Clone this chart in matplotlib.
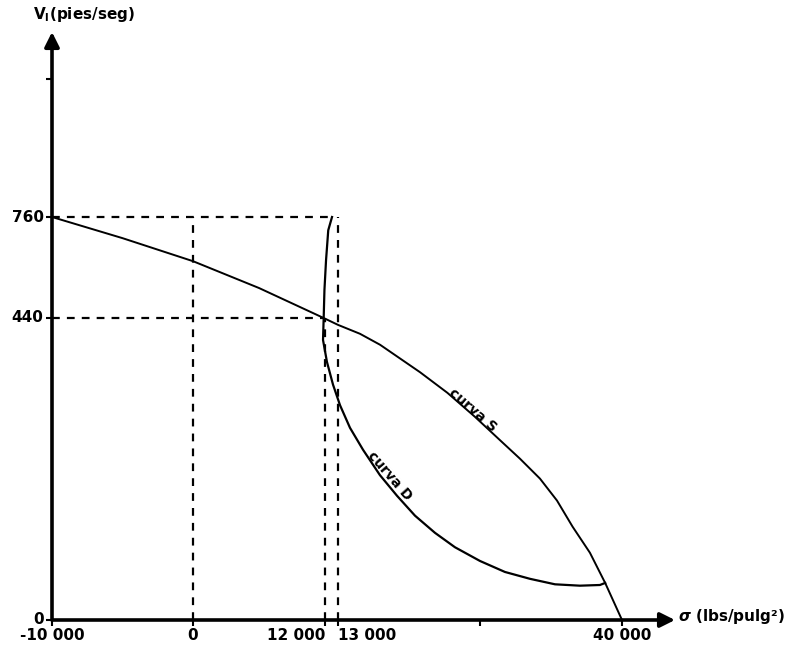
import numpy as np
import matplotlib
matplotlib.use("Agg")
import matplotlib.pyplot as plt

plt.rcParams['font.family'] = ['DejaVu Sans']
plt.rcParams['font.weight'] = 'bold'

# curva S (sigma en lbs/pulg2, velocidad en pies/seg)
s_sigma = [-10000, -5000, 0, 6000, 11880, 13000, 15090, 17000, 20800, 23400, 26020, 28400,
           30300, 32200, 33820, 35300, 36950, 38400, 40000]
s_vel = [760, 693, 620, 535, 440, 430, 417, 401, 361, 331, 296, 262,
         235, 206, 174, 136, 98, 54, 0]

# curva D
d_sigma = [12540, 12250, 12080, 11950, 11880, 11820, 12150, 12615, 13190, 14140, 15380, 16990,
           18610, 20320, 22220, 24120, 26500, 28870, 31250, 33630, 36000, 37900, 38400]
d_vel = [760, 718, 623, 529, 440, 408, 376, 343, 313, 280, 248, 211,
         181, 152, 127, 106, 86, 70, 60, 52, 50, 51, 54]

# ticks
x_ticks = [-10000, 0, 12000, 13000, 26500, 40000]
x_labels = ['-10 000', '0', '12 000', '13 000', '', '40 000']
y_ticks = [0, 440, 760, 1197]
y_labels = ['0', '440', '760', '']

# punto de diseno y limites
v_max, v_des = 760, 440
sig_des, sig_top, sig_lim, sig_cross = 12000, 13000, 12540, 11880

# the sketch is not drawn to a linear scale: piecewise mapping value -> pixel
x_anchor = [-10000, 0, 12000, 13000, 40000]
x_pix = [52, 193, 325, 338, 622]
y_anchor = [0, 440, 760]
y_pix = [27, 329, 430]


def piecewise(vals, pos):
    vals = np.asarray(vals, float)
    pos = np.asarray(pos, float)

    def mk(a, b):
        def f(v):
            v = np.asarray(v, float)
            out = np.interp(v, a, b)
            lo = b[0] + (v - a[0]) * (b[1] - b[0]) / (a[1] - a[0])
            hi = b[-1] + (v - a[-1]) * (b[-1] - b[-2]) / (a[-1] - a[-2])
            out = np.where(v < a[0], lo, out)
            out = np.where(v > a[-1], hi, out)
            return out
        return f
    return mk(vals, pos), mk(pos, vals)


fx, ix = piecewise(x_anchor, x_pix)
fy, iy = piecewise(y_anchor, y_pix)

W, H = 810, 647
fig = plt.figure(figsize=(W / 100, H / 100), dpi=100)
ax = fig.add_axes([0, 0, 1, 1])
ax.set_xscale('function', functions=(fx, ix))
ax.set_yscale('function', functions=(fy, iy))
ax.set_xlim(float(ix(0)), float(ix(W)))
ax.set_ylim(float(iy(0)), float(iy(H)))

# dashed guides
dash = dict(color='k', lw=1.6, ls=(0, (3.5, 3.2)))
ax.plot([-10000, sig_lim], [v_max, v_max], **dash)
ax.plot([-10000, sig_cross], [v_des, v_des], **dash)
ax.plot([0, 0], [0, v_max], **dash)
ax.plot([sig_des, sig_des], [0, v_des], **dash)
ax.plot([sig_top, sig_top], [0, v_max], **dash)

# curves
ax.plot(s_sigma, s_vel, color='k', lw=1.4, solid_joinstyle='round')
ax.plot(d_sigma, d_vel, color='k', lw=1.6, solid_joinstyle='round')

# axes with arrows
x_end = float(ix(675))
y_end = float(iy(647 - 32))
arrow = dict(arrowstyle='-|>', lw=2.6, color='k', mutation_scale=22, shrinkA=0, shrinkB=0)
ax.annotate('', xy=(x_end, 0), xytext=(-10000, 0), arrowprops=arrow)
ax.annotate('', xy=(-10000, y_end), xytext=(-10000, 0), arrowprops=arrow)

for s in ['top', 'right']:
    ax.spines[s].set_visible(False)
ax.spines['left'].set_position(('data', -10000))
ax.spines['bottom'].set_position(('data', 0))
ax.spines['left'].set_visible(False)
ax.spines['bottom'].set_visible(False)

ax.set_xticks(x_ticks)
ax.set_xticklabels(x_labels)
ax.set_yticks(y_ticks)
ax.set_yticklabels(y_labels)
ax.minorticks_off()
ax.tick_params(axis='both', direction='out', length=4, width=1.5, labelsize=11, pad=2)
for t in ax.get_xticklabels():
    t.set_fontweight('bold')
for t in ax.get_yticklabels():
    t.set_fontweight('bold')
    t.set_va('center')
xl = ax.get_xticklabels()
xl[2].set_ha('right')
xl[3].set_ha('left')

# curve names
ax.text(25800, 306, 'curva S', rotation=-41, ha='center', va='center', fontsize=10, fontweight='bold')
ax.text(17900, 210, 'curva D', rotation=-49, ha='center', va='center', fontsize=10, fontweight='bold')

# axis titles
fig.text(33 / W, 1 - 15 / H, r'V$_\mathbf{l}$(pies/seg)', ha='left', va='center', fontsize=11,
         fontweight='bold')
fig.text(678 / W, 1 - 617 / H, r'$\sigma$ (lbs/pulg²)', ha='left', va='center', fontsize=11,
         fontweight='bold')

fig.savefig('out.png', dpi=100)
